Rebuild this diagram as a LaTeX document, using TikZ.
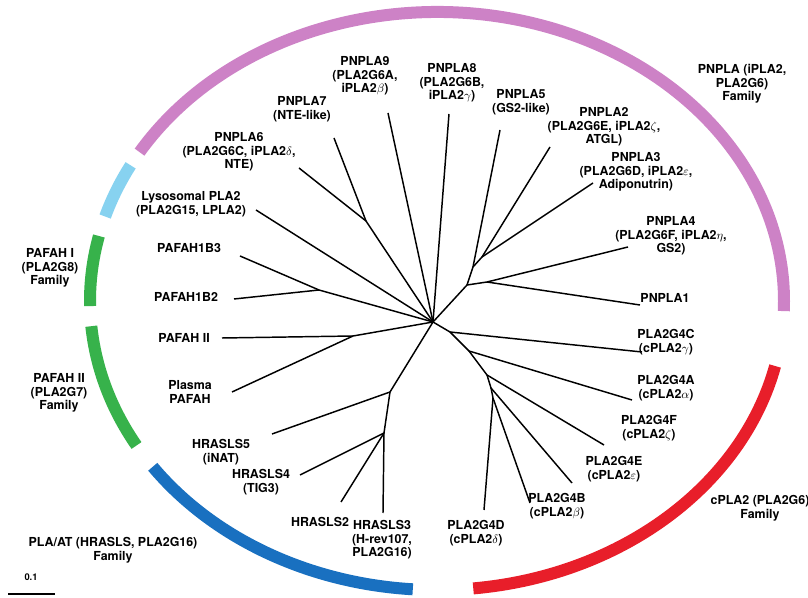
\documentclass[tikz,border=0pt]{standalone}
\usepackage{fontspec}
\setmainfont{TeX Gyre Heros}

\definecolor{pnplac}{RGB}{205,130,198}
\definecolor{lysoc}{RGB}{135,210,240}
\definecolor{pafahc}{RGB}{55,178,75}
\definecolor{plaatc}{RGB}{25,112,192}
\definecolor{cplac}{RGB}{232,30,42}

\begin{document}
\begin{tikzpicture}[
  x=0.75pt, y=-0.75pt,
  br/.style={line width=1.1pt},
  fam/.style={line width=9pt},
  lbl/.style={font=\bfseries\fontsize{9.3}{10.2}\selectfont, align=center, inner sep=0pt},
]
\useasboundingbox (0,0) rectangle (808,598);

% inner nodes
\coordinate (c) at (433,322);
\coordinate (pa) at (319,290);
\coordinate (p67) at (366,221);
\coordinate (pr) at (467,285);
\coordinate (p41) at (487,282);
\coordinate (p5) at (473,267);
\coordinate (p23) at (482,257);
\coordinate (g1) at (450,332);
\coordinate (g2) at (469,351);
\coordinate (g3) at (487,375);
\coordinate (g4) at (491,388);
\coordinate (g5) at (493,398);
\coordinate (pf) at (353,336);
\coordinate (h1) at (390,392);
\coordinate (h2) at (384,433);

% leaves
\coordinate (lyso) at (256,210);
\coordinate (pn6) at (299,168);
\coordinate (pn7) at (334,138);
\coordinate (pn9) at (388,113);
\coordinate (pn8) at (449,114);
\coordinate (pn5) at (500,130);
\coordinate (pn2) at (550,147);
\coordinate (pn3) at (593,183);
\coordinate (pn4) at (628,247);
\coordinate (pn1) at (640,305);
\coordinate (b3) at (240,256);
\coordinate (b2) at (234,299);
\coordinate (pf2) at (222,338);
\coordinate (plas) at (232,392);
\coordinate (hr5) at (272,434);
\coordinate (hr4) at (300,475);
\coordinate (hr2) at (341,502);
\coordinate (hr3) at (383,513);
\coordinate (g4c) at (642,352);
\coordinate (g4a) at (632,400);
\coordinate (g4f) at (604,445);
\coordinate (g4e) at (572,483);
\coordinate (g4b) at (530,503);
\coordinate (g4d) at (484,510);

% branches
\draw [br] (b3) -- (pa) -- (c);
\draw [br] (b2) -- (pa);
\draw [br] (lyso) -- (c);
\draw [br] (pn6) -- (p67) -- (c);
\draw [br] (pn7) -- (p67);
\draw [br] (pn9) -- (c);
\draw [br] (pn8) -- (c);
\draw [br] (c) -- (pr) -- (p41) -- (pn1);
\draw [br] (p41) -- (pn4);
\draw [br] (pr) -- (p5) -- (pn5);
\draw [br] (p5) -- (p23) -- (pn3);
\draw [br] (p23) -- (pn2);
\draw [br] (c) -- (g1) -- (g4c);
\draw [br] (g1) -- (g2) -- (g4a);
\draw [br] (g2) -- (g3) -- (g4f);
\draw [br] (g3) -- (g4) -- (g4e);
\draw [br] (g4) -- (g5) -- (g4d);
\draw [br] (g5) -- (g4b);
\draw [br] (c) -- (pf) -- (pf2);
\draw [br] (pf) -- (plas);
\draw [br] (c) -- (h1) -- (hr5);
\draw [br] (h1) -- (h2) -- (hr3);
\draw [br] (h2) -- (hr4);
\draw [br] (h2) -- (hr2);

% family arcs (y axis points down, so angles are negated)
\draw [fam, pnplac] (437,301) ++(-149:347 and 289) arc [start angle=-149, end angle=2, x radius=347, y radius=289];
\draw [fam, lysoc] (437,301) ++(-163:347 and 289) arc [start angle=-163, end angle=-152, x radius=347, y radius=289];
\draw [fam, pafahc] (437,301) ++(-181:347 and 289) arc [start angle=-181, end angle=-167, x radius=347, y radius=289];
\draw [fam, pafahc] (437,301) ++(-210:347 and 289) arc [start angle=-210, end angle=-185, x radius=347, y radius=289];
\draw [fam, plaatc] (437,301) ++(-266:347 and 289) arc [start angle=-266, end angle=-215, x radius=347, y radius=289];
\draw [fam, cplac] (437,301) ++(-347:347 and 289) arc [start angle=-347, end angle=-276, x radius=347, y radius=289];

% labels
\node [lbl] (t9) at (365,76) {PNPLA9\\(PLA2G6A,\\iPLA2$\beta$)};
\node [lbl] (t8) at (452,83) {PNPLA8\\(PLA2G6B,\\iPLA2$\gamma$)};
\node [lbl] (t7) at (302,109) {PNPLA7\\(NTE-like)};
\node [lbl] (t6) at (239,152) {PNPLA6\\(PLA2G6C, iPLA2$\delta$,\\NTE)};
\node [lbl] (t5) at (521,102) {PNPLA5\\(GS2-like)};
\node [lbl] (t2) at (604,127) {PNPLA2\\(PLA2G6E, iPLA2$\zeta$,\\ATGL)};
\node [lbl] (t3) at (636,172) {PNPLA3\\(PLA2G6D, iPLA2$\varepsilon$,\\Adiponutrin)};
\node [lbl] (t4) at (671,236) {PNPLA4\\(PLA2G6F, iPLA2$\eta$,\\GS2)};
\node [lbl] (t1) at (665,298) {PNPLA1};
\node [lbl] (tly) at (191,204) {Lysosomal PLA2\\(PLA2G15, LPLA2)};
\node [lbl] (tb3) at (189,248) {PAFAH1B3};
\node [lbl] (tb2) at (186,297) {PAFAH1B2};
\node [lbl] (tp2) at (184,338) {PAFAH II};
\node [lbl] (tpl) at (190,392) {Plasma\\PAFAH};
\node [lbl] (th5) at (221,452) {HRASLS5\\(iNAT)};
\node [lbl] (th4) at (261,482) {HRASLS4\\(TIG3)};
\node [lbl] (th2) at (320,522) {HRASLS2};
\node [lbl] (th3) at (382,540) {HRASLS3\\(H-rev107,\\PLA2G16)};
\node [lbl] (tgd) at (476,533) {PLA2G4D\\(cPLA2$\delta$)};
\node [lbl] (tgb) at (557,506) {PLA2G4B\\(cPLA2$\beta$)};
\node [lbl] (tge) at (614,469) {PLA2G4E\\(cPLA2$\varepsilon$)};
\node [lbl] (tgf) at (649,428) {PLA2G4F\\(cPLA2$\zeta$)};
\node [lbl] (tga) at (666,388) {PLA2G4A\\(cPLA2$\alpha$)};
\node [lbl] (tgc) at (666,342) {PLA2G4C\\(cPLA2$\gamma$)};

\node [lbl] (fpn) at (742,84) {PNPLA (iPLA2,\\PLA2G6)\\Family};
\node [lbl] (fcp) at (760,508) {cPLA2 (PLA2G6)\\Family};
\node [lbl] (fpl) at (113,550) {PLA/AT (HRASLS, PLA2G16)\\Family};
\node [lbl] (fp2) at (59,393) {PAFAH II\\(PLA2G7)\\Family};
\node [lbl] (fp1) at (50,268) {PAFAH I\\(PLA2G8)\\Family};

% scale bar
\node [lbl, font=\bfseries\fontsize{7}{8}\selectfont] (sb) at (31,577) {0.1};
\coordinate (sl) at (8,594);
\coordinate (sr) at (55,594);
\draw [line width=0.8pt] (sl) -- (sr);
\end{tikzpicture}
\end{document}
